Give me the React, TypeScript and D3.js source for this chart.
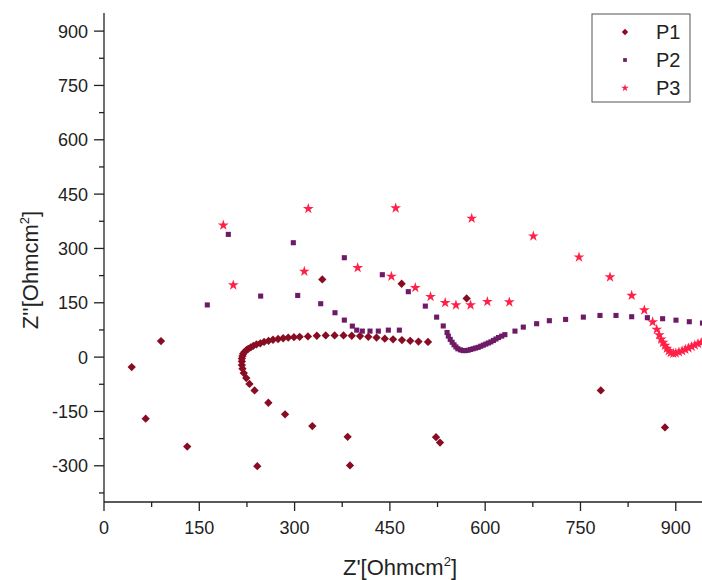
import React from "react";
import * as d3 from "d3";

// ---------- data ----------
const seriesNames = ["P1", "P2", "P3"];

const p1X = [43.6, 89.7, 65.6, 131, 343.6, 468.5, 570.8, 241.3, 387.2, 522.6, 528.9, 782, 883,
  383.5, 327.9, 285, 258.7, 237, 229, 224, 220, 218, 217, 217, 217, 218, 219, 221, 224, 227, 231,
  235, 240, 246, 252, 259, 266, 274, 282, 290, 299, 308, 321, 335, 349, 363, 377, 390, 403, 416,
  429, 442, 455, 469, 482, 495, 510];
const p1Y = [-27.6, 44.2, -170, -247, 214.5, 202.6, 162, -301, -299, -221, -236, -92, -194,
  -220, -190.5, -158, -126, -92, -74, -58, -44, -32, -22, -12, -4, 3, 9, 14, 19, 23, 27,
  31, 35, 38, 42, 45, 48, 50, 52, 54, 55, 56, 57, 59, 60, 60, 60, 59, 58, 56,
  54, 51, 49, 47, 45, 43, 42];

const p2X = [162.6, 195.7, 246.6, 298, 378.3,
  304.9, 341.1, 363.6, 378.3, 390.9, 397.8, 406.6, 418.7, 431.8, 447.6, 464.9,
  438.1, 479, 505.8, 523.6, 534, 540, 542, 545, 548, 551, 554, 557, 561, 565, 569, 573, 577, 581,
  585, 589, 593, 597, 601, 605, 609, 613, 617, 621, 626, 631, 646.9, 660, 681, 701, 726.6, 754.5,
  780.7, 805.9, 830.6, 855.3, 879.3, 900.3, 921.3, 942];
const p2Y = [144, 338.8, 168.5, 315.8, 274.4,
  170.3, 147.4, 122.5, 102.2, 85.6, 74.5, 71.8, 71.8, 71.8, 74.5, 74.5,
  227.5, 180.6, 140.8, 110.4, 86, 68, 58, 49, 41, 34, 28, 23, 20, 18, 18, 19, 21, 23,
  25, 27, 30, 33, 36, 39, 42, 46, 50, 54, 58, 62, 71.8, 82.8, 92.2, 100.5, 104, 110.4,
  115, 115, 111.5, 108.8, 106, 102, 97.7, 94];

const p3X = [203.5, 187.8, 321.6, 315.3, 399.3, 459.1, 452.4, 490, 514, 537, 554, 577, 578.8,
  603.4, 638, 675.8, 747.7, 796.5, 830.6, 850.5, 863.6, 870, 874, 877, 880, 883, 886, 889, 892,
  896, 900, 905, 910, 915, 920, 925, 930, 935, 940];
const p3Y = [198.8, 364, 409.7, 236.6, 246.8, 411.4, 222.8, 191.6, 166.8, 150, 143.6, 143.6, 383,
  153, 152, 334, 276, 221, 170, 129.8, 97, 76.5, 61, 49, 40, 32, 24, 17, 12,
  10, 11, 14, 17, 21, 25, 29, 33, 37, 40];

const xMajorTicks = [0, 150, 300, 450, 600, 750, 900];
const yMajorTicks = [-300, -150, 0, 150, 300, 450, 600, 750, 900];
const xMinorTicks = [75, 225, 375, 525, 675, 825];
const yMinorTicks = [-375, -225, -75, 75, 225, 375, 525, 675, 825];

const colors = ["#880c22", "#6e1a66", "#ff2048"];
const symbols = [d3.symbolDiamond2, d3.symbolSquare, d3.symbolStar];
const symbolSizes = [44, 26, 36];
const legendSizes = [26, 14, 18];

const FONT = "'Liberation Sans', Arial, Helvetica, sans-serif";

export default function App() {
  const W = 702, H = 580;
  const x = d3.scaleLinear().domain([0, 950]).range([104, 104 + 950 * 0.6353]);
  const y = d3.scaleLinear().domain([-400, 950]).range([502, 13]);

  const data = [
    p1X.map((v, i) => [v, p1Y[i]]),
    p2X.map((v, i) => [v, p2Y[i]]),
    p3X.map((v, i) => [v, p3Y[i]]),
  ];
  const paths = symbols.map((s, i) => d3.symbol().type(s).size(symbolSizes[i])() as string);
  const legendPaths = symbols.map((s, i) => d3.symbol().type(s).size(legendSizes[i])() as string);

  const x0 = x(0), yBase = y(-400);

  return (
    <svg width={W} height={H} style={{ position: "absolute", left: 0, top: 0, background: "#fff" }}
      fontFamily={FONT}>
      <rect x={0} y={0} width={W} height={H} fill="#fff" />
      {/* data */}
      {data.map((pts, si) => (
        <g key={si} fill={colors[si]}>
          {pts.map((p, i) => (
            <path key={i} d={paths[si]} transform={`translate(${x(p[0])},${y(p[1])})`} />
          ))}
        </g>
      ))}
      {/* axes */}
      <g stroke="#222" strokeWidth={1.3}>
        <line x1={x0} x2={W} y1={yBase} y2={yBase} />
        <line x1={x0} x2={x0} y1={y(950)} y2={yBase} />
        {xMajorTicks.map((t) => (
          <line key={"xm" + t} x1={x(t)} x2={x(t)} y1={yBase} y2={yBase + 9} />
        ))}
        {xMinorTicks.map((t) => (
          <line key={"xn" + t} x1={x(t)} x2={x(t)} y1={yBase} y2={yBase + 5} />
        ))}
        {yMajorTicks.map((t) => (
          <line key={"ym" + t} x1={x0 - 10} x2={x0} y1={y(t)} y2={y(t)} />
        ))}
        {yMinorTicks.map((t) => (
          <line key={"yn" + t} x1={x0 - 5} x2={x0} y1={y(t)} y2={y(t)} />
        ))}
      </g>
      <g fontSize={18} fill="#222">
        {xMajorTicks.map((t) => (
          <text key={"xl" + t} x={x(t)} y={534} textAnchor="middle">{t}</text>
        ))}
        {yMajorTicks.map((t) => (
          <text key={"yl" + t} x={x0 - 16} y={y(t) + 6.5} textAnchor="end">{t}</text>
        ))}
      </g>
      {/* axis titles */}
      <text x={400} y={575} textAnchor="middle" fontSize={22} fill="#222">
        Z'[Ohmcm<tspan dy={-9} fontSize={13}>2</tspan><tspan dy={9}>]</tspan>
      </text>
      <text transform={`translate(38,270) rotate(-90)`} textAnchor="middle" fontSize={22} fill="#222">
        Z''[Ohmcm<tspan dy={-9} fontSize={13}>2</tspan><tspan dy={9}>]</tspan>
      </text>
      {/* legend */}
      <rect x={592} y={14} width={98} height={88} fill="#fff" stroke="#555" strokeWidth={1} />
      {seriesNames.map((n, i) => (
        <g key={n} transform={`translate(0,${32 + i * 28})`}>
          <path d={legendPaths[i]} fill={colors[i]} transform="translate(625,0)" />
          <text x={656} y={7} fontSize={20} fill="#222">{n}</text>
        </g>
      ))}
    </svg>
  );
}
